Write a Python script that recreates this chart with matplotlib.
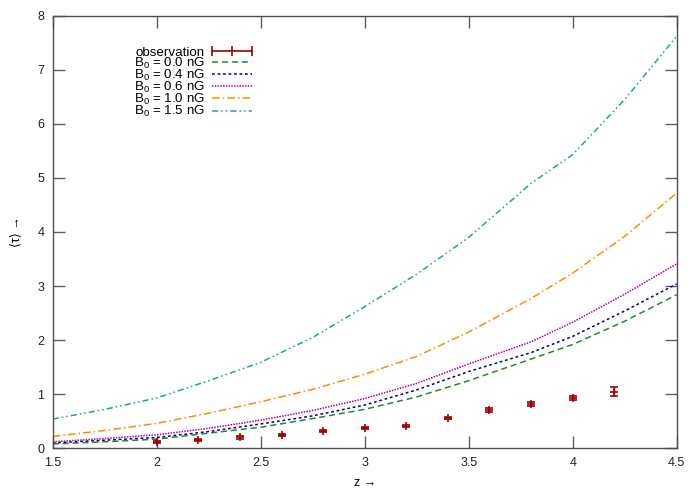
import matplotlib
matplotlib.use("Agg")
import matplotlib.pyplot as plt
from matplotlib.lines import Line2D
from matplotlib.legend_handler import HandlerBase

plt.rcParams['font.family'] = ['Liberation Sans', 'DejaVu Sans']
plt.rcParams['mathtext.fontset'] = 'custom'
plt.rcParams['mathtext.rm'] = 'Liberation Sans'
plt.rcParams['mathtext.it'] = 'Liberation Sans'

# observations
z_obs = [2.0, 2.2, 2.4, 2.6, 2.8, 3.0, 3.2, 3.4, 3.6, 3.8, 4.0, 4.2]
tau_obs = [0.12, 0.155, 0.20, 0.25, 0.32, 0.38, 0.41, 0.56, 0.71, 0.82, 0.93, 1.05]
tau_err = [0.02, 0.02, 0.02, 0.02, 0.02, 0.02, 0.02, 0.02, 0.03, 0.03, 0.04, 0.09]

# model curves
z_mod = [1.5, 1.75, 2.0, 2.25, 2.5, 2.75, 3.0, 3.25, 3.5, 3.8, 4.0, 4.25, 4.5]
tau_b00 = [0.08, 0.12, 0.17, 0.28, 0.39, 0.55, 0.72, 0.95, 1.25, 1.65, 1.92, 2.35, 2.84]
tau_b04 = [0.10, 0.15, 0.20, 0.31, 0.45, 0.60, 0.80, 1.08, 1.42, 1.77, 2.07, 2.54, 3.04]
tau_b06 = [0.12, 0.18, 0.25, 0.37, 0.52, 0.70, 0.92, 1.20, 1.56, 1.97, 2.33, 2.85, 3.41]
tau_b10 = [0.22, 0.33, 0.46, 0.65, 0.86, 1.09, 1.37, 1.70, 2.15, 2.77, 3.24, 3.92, 4.72]
tau_b15 = [0.54, 0.72, 0.93, 1.25, 1.59, 2.05, 2.62, 3.22, 3.90, 4.90, 5.43, 6.45, 7.62]

labels = ['observation', r'B$_0$ = 0.0 nG', r'B$_0$ = 0.4 nG', r'B$_0$ = 0.6 nG',
          r'B$_0$ = 1.0 nG', r'B$_0$ = 1.5 nG']
x_ticks = [1.5, 2, 2.5, 3, 3.5, 4, 4.5]
x_ticklabels = ['1.5', '2', '2.5', '3', '3.5', '4', '4.5']
y_ticks = [0, 1, 2, 3, 4, 5, 6, 7, 8]

OBS_COLOR = '#a00000'


class HandlerHBar(HandlerBase):
    def create_artists(self, legend, orig_handle, xdescent, ydescent, width,
                       height, fontsize, trans):
        y = height / 2.0 - ydescent
        x0 = -xdescent
        x1 = x0 + width
        line = Line2D([x0, x1], [y, y], color=OBS_COLOR, lw=1.2)
        caps = Line2D([x0, (x0 + x1) / 2.0, x1], [y, y, y], ls='none',
                      marker='|', ms=7, mew=1.2, color=OBS_COLOR)
        line.set_transform(trans)
        caps.set_transform(trans)
        return [line, caps]


fig = plt.figure(figsize=(7, 4.9), dpi=100)
ax = fig.add_axes([0.0753, 0.0851, 0.9667 - 0.0753, 0.968 - 0.0851])

eb = ax.errorbar(z_obs, tau_obs, yerr=tau_err, fmt='+', color=OBS_COLOR, ms=6,
                 mew=1.2, elinewidth=1.0, capsize=3, capthick=1.0)
l0, = ax.plot(z_mod, tau_b00, color='#228b22', lw=1.1, ls=(0, (4, 2.5)))
l1, = ax.plot(z_mod, tau_b04, color='#00008b', lw=1.1, ls=(0, (1.8, 1.8)))
l2, = ax.plot(z_mod, tau_b06, color='#b000b0', lw=1.1, ls=(0, (1, 0.8)))
l3, = ax.plot(z_mod, tau_b10, color='#ff8c00', lw=1.1, ls=(0, (5, 2, 1, 2)))
l4, = ax.plot(z_mod, tau_b15, color='#20a0a0', lw=1.1, ls=(0, (4, 2, 1, 2, 1, 2)))

ax.set_xlim(1.5, 4.5)
ax.set_ylim(0, 8)
ax.set_xticks(x_ticks)
ax.set_xticklabels(x_ticklabels)
ax.set_yticks(y_ticks)
ax.tick_params(direction='in', length=8.5, width=1, color='#606060',
               labelsize=9, top=True, right=True, pad=6, labelcolor='#222222')
for s in ax.spines.values():
    s.set_color('#505050')
    s.set_linewidth(1)

ax.set_xlabel('z \u2192', fontsize=9, labelpad=6)
ax.set_ylabel('\u27e8\u03c4\u27e9 \u2192', fontsize=9, labelpad=11)

leg = ax.legend([eb, l0, l1, l2, l3, l4], labels,
                handler_map={eb: HandlerHBar()},
                loc='upper left', bbox_to_anchor=(0.117, 0.948), frameon=False,
                markerfirst=False, fontsize=9.6, handlelength=3.0,
                labelspacing=-0.22, handletextpad=0.55, borderaxespad=0.2)

fig.savefig('out.png', dpi=100)
